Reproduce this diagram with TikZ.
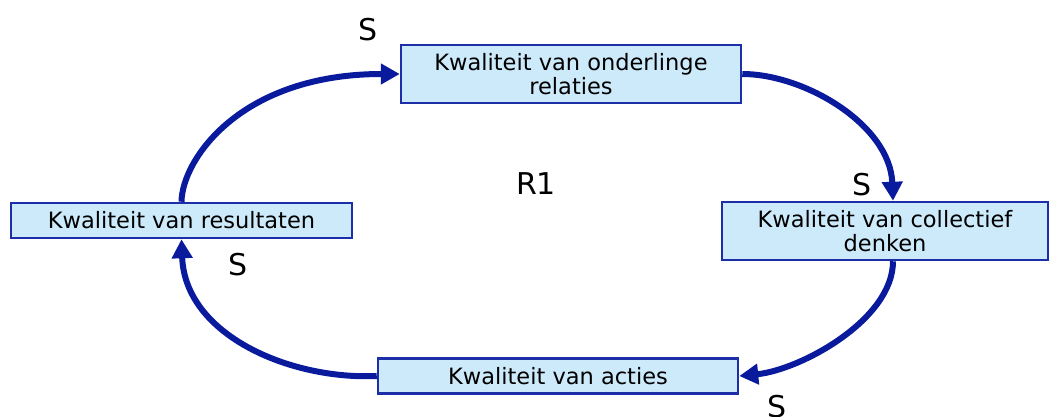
\documentclass[tikz,border=0pt]{standalone}
\usepackage{fontspec}
\setmainfont{DejaVu Sans}
\usetikzlibrary{arrows.meta,calc}
\definecolor{arrowblue}{HTML}{0A1A9C}
\definecolor{boxline}{HTML}{1C2FA8}
\definecolor{boxfill}{HTML}{CDEAFB}
\tikzset{
  qbox/.style={draw=boxline, fill=boxfill, line width=2.5pt, align=center, inner sep=0pt,
    font=\fontsize{22.5}{24}\selectfont},
  loop/.style={draw=arrowblue, line width=6pt, -{Triangle[length=19pt,width=20pt]}},
  slabel/.style={font=\fontsize{30}{32}\selectfont, inner sep=0pt}
}
\begin{document}
\begin{tikzpicture}[x=1pt,y=-1pt]
\useasboundingbox (0,0) rectangle (1050,416);
\node[qbox, minimum width=340pt, minimum height=58pt] (t) at (571,74) {Kwaliteit van onderlinge\\relaties};
\node[qbox, minimum width=326pt, minimum height=58pt] (r) at (885,231) {Kwaliteit van collectief\\denken};
\node[qbox, minimum width=341pt, minimum height=35pt] (l) at (181.5,220.5) {Kwaliteit van resultaten};
\node[qbox, minimum width=360pt, minimum height=35pt] (b) at (558,376) {Kwaliteit van acties};
\coordinate (rn) at ($(r.north)+(8,0)$);
\coordinate (rs) at ($(r.south)+(8,0)$);
\draw[loop] (l.north) .. controls (182,160) and (240,74) .. (t.west);
\draw[loop] (t.east) .. controls (805,74) and (890,125) .. (rn);
\draw[loop] (rs) .. controls (893,320) and (800,370) .. (b.east);
\draw[loop] (b.west) .. controls (290,380) and (185,335) .. (l.south);
\node[slabel] (s1) at (368,30) {S};
\node[slabel] (s2) at (862,185) {S};
\node[slabel] (s3) at (238,265) {S};
\node[slabel] (s4) at (777,407) {S};
\node[slabel] (r1) at (536,184) {R1};
\end{tikzpicture}
\end{document}
